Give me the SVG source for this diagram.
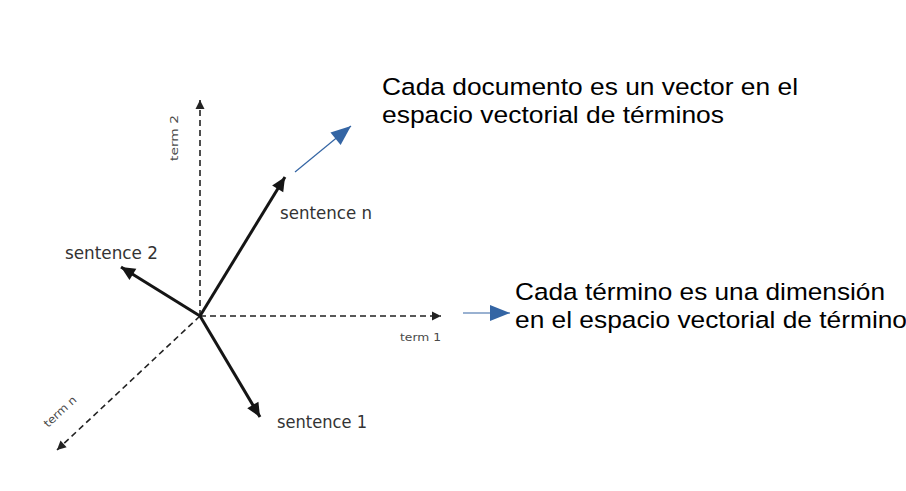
<svg xmlns="http://www.w3.org/2000/svg" width="906" height="491" viewBox="0 0 906 491">
<defs>
<style>
.vec{stroke:#151515;stroke-width:3;fill:none;marker-end:url(#bigHead)}
.axis{stroke:#222;stroke-width:1.6;fill:none;stroke-dasharray:6 4;marker-end:url(#smallHead)}
.blue{stroke:#3465a4;stroke-width:1.2;fill:none;marker-end:url(#blueHead)}
.lbl{font-family:"DejaVu Sans","Liberation Sans",sans-serif;fill:#333;font-size:17px}
.ax{font-family:"DejaVu Sans","Liberation Sans",sans-serif;fill:#4a4a4a;font-size:11px}
.note{font-family:"Liberation Sans",Arial,sans-serif;fill:#000;font-size:24.5px}
</style>
<marker id="bigHead" markerUnits="userSpaceOnUse" markerWidth="16" markerHeight="14" viewBox="-15 -7 16 14" refX="0" refY="0" orient="auto">
<path d="M0,0 L-14,-6.5 L-14,6.5 Z" fill="#151515"/>
</marker>
<marker id="smallHead" markerUnits="userSpaceOnUse" markerWidth="11" markerHeight="10" viewBox="-10 -5 11 10" refX="0" refY="0" orient="auto">
<path d="M0,0 L-9,-4.5 L-9,4.5 Z" fill="#222"/>
</marker>
<marker id="blueHead" markerUnits="userSpaceOnUse" markerWidth="22" markerHeight="18" viewBox="-21 -9 22 18" refX="0" refY="0" orient="auto">
<path d="M0,0 L-20,-8 L-20,8 Z" fill="#3465a4"/>
</marker>
</defs>
<rect width="906" height="491" fill="#fff"/>
<g id="connectors">
<line class="axis" x1="200" y1="316" x2="200" y2="100"/>
<line class="axis" x1="200" y1="316" x2="441" y2="316"/>
<line class="axis" x1="200" y1="316" x2="57" y2="450"/>
<line class="vec" x1="200" y1="316" x2="285" y2="177"/>
<line class="vec" x1="200" y1="316" x2="121" y2="267"/>
<line class="vec" x1="200" y1="316" x2="260" y2="417"/>
<line class="blue" x1="295" y1="172" x2="351" y2="126"/>
<line class="blue" x1="463" y1="313" x2="510" y2="313"/>
</g>
<g id="label-term2"><text class="ax" transform="translate(178,161) rotate(-90)" textLength="46" lengthAdjust="spacingAndGlyphs">term 2</text></g>
<g id="label-term1"><text class="ax" x="400" y="341" textLength="41" lengthAdjust="spacingAndGlyphs">term 1</text></g>
<g id="label-termn"><text class="ax" transform="translate(48,428) rotate(-43)" textLength="40" lengthAdjust="spacingAndGlyphs">term n</text></g>
<g id="sentence-n"><text class="lbl" x="280" y="219" textLength="92" lengthAdjust="spacingAndGlyphs">sentence n</text></g>
<g id="sentence-2"><text class="lbl" x="65" y="259" textLength="93" lengthAdjust="spacingAndGlyphs">sentence 2</text></g>
<g id="sentence-1"><text class="lbl" x="277" y="428" textLength="90" lengthAdjust="spacingAndGlyphs">sentence 1</text></g>
<g id="note-documento">
<text class="note" x="382" y="95" textLength="416" lengthAdjust="spacingAndGlyphs">Cada documento es un vector en el</text>
<text class="note" x="382" y="123" textLength="342" lengthAdjust="spacingAndGlyphs">espacio vectorial de términos</text>
</g>
<g id="note-termino">
<text class="note" x="515" y="300" textLength="370" lengthAdjust="spacingAndGlyphs">Cada término es una dimensión</text>
<text class="note" x="515" y="328" textLength="392" lengthAdjust="spacingAndGlyphs">en el espacio vectorial de término</text>
</g>
</svg>
